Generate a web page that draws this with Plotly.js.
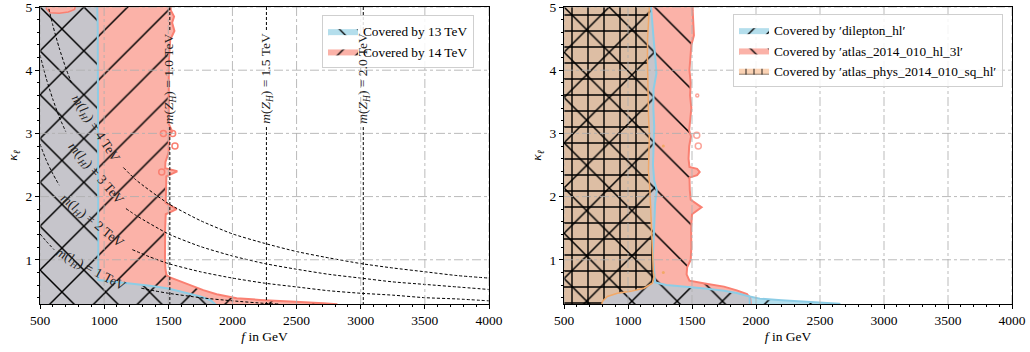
<!DOCTYPE html>
<html><head><meta charset="utf-8">
<script src="https://cdn.plot.ly/plotly-3.0.1.min.js"></script>
<style>body{margin:0;padding:0;background:#fff}#chart{width:1030px;height:352px}</style>
</head><body><div id="chart"></div>
<script>
// ---------------- data ----------------
const xTicks = [500, 1000, 1500, 2000, 2500, 3000, 3500, 4000];
const yTicks = [1, 2, 3, 4, 5];

// left panel: region covered at 14 TeV (outer boundary)
const cov14F = [400,1519,1519,1545,1530,1548,1515,1506,1504,1505,1504,1530,1505,1503,1478,1476,1570,1485,1480,1480,1565,1480,1476,1472,1474,1478,1485,1513,1539,1617,1695,1773,1877,1955,2033,2215,2397,2527,2708,2812,2830,400];
const cov14K = [5.2,5.2,4.95,4.85,4.75,4.62,4.48,4.2,3.9,3.5,3.15,3.03,2.95,2.7,2.55,2.45,2.4,2.32,2.1,1.9,1.8,1.72,1.5,1.2,1.0,0.85,0.76,0.72,0.70,0.63,0.575,0.52,0.455,0.42,0.39,0.365,0.35,0.33,0.31,0.295,0.2,0.2];
// left panel: region covered at 13 TeV (inside the 14 TeV region)
const cov13F = [400,945,947,950,952,953,955,1150,1357,1500,1620,1750,1830,1875,1880,400];
const cov13K = [5.2,5.2,4.95,4.7,3.5,2.0,0.68,0.635,0.59,0.545,0.49,0.42,0.36,0.28,0.2,0.2];
// small uncovered notch at the top left
const notchF = [545,550,580,650,720,770,790];
const notchK = [5.2,4.97,4.91,4.9,4.92,4.96,5.2];
// small contour islands
const islandLF = [1462,1534,1552,1449];
const islandLK = [3.0,3.0,2.8,2.39];

// heavy lepton mass contours m(l_H) = 4,3,2,1 TeV (gaps where the labels sit)
const ml4F = [560,600,650,700,745,null,1150,1250,1500,1750,2000,2250,2500,2750,3000,3250,3500,3750,4000];
const ml4K = [5.05,4.71,4.35,4.04,3.80,null,2.46,2.26,1.89,1.62,1.41,1.26,1.13,1.03,0.94,0.87,0.81,0.75,0.71];
const ml3F = [500,550,600,650,700,null,1170,1250,1500,1750,2000,2250,2500,2750,3000,3250,3500,3750,4000];
const ml3K = [4.24,3.86,3.54,3.26,3.03,null,1.81,1.70,1.41,1.21,1.06,0.94,0.85,0.77,0.71,0.65,0.61,0.57,0.53];
const ml2F = [500,550,600,650,null,1220,1350,1500,1750,2000,2250,2500,2750,3000,3250,3500,3750,4000];
const ml2K = [2.83,2.57,2.36,2.18,null,1.16,1.05,0.94,0.81,0.71,0.63,0.57,0.51,0.47,0.44,0.40,0.38,0.35];
const ml1F = [500,550,610,null,1290,1400,1500,1750,2000,2250,2360];
const ml1K = [1.41,1.29,1.16,null,0.55,0.505,0.47,0.40,0.35,0.31,0.30];
const mlLabels = ['4', '3', '2', '1'];
const mlLabelF = [930, 930, 905, 890];
const mlLabelK = [3.08, 2.36, 1.60, 0.84];
const mlLabelAngle = [57, 49, 39, 28];

// heavy Z_H mass lines
const mZH = ['1.0', '1.5', '2.0'];
const fZH = [1512, 2265, 3020];
const zhLabelK = 3.87, zhGapLow = 3.1, zhGapHigh = 4.62, kTop = 5, kBottom = 0.3;

// right panel: 'dilepton_hl'
const dilF = [400,1180,1180,1190,1200,1215,1222,1200,1198,1205,1200,1195,1205,1225,1212,1205,1200,1195,1205,1212,1300,1450,1600,1750,1850,1950,2030,2200,2450,2650,2700,400];
const dilK = [5.2,5.2,5.0,4.8,4.5,4.15,3.95,3.7,3.4,3.1,2.8,2.5,2.25,2.1,1.9,1.6,1.3,1.05,0.8,0.64,0.6,0.575,0.545,0.51,0.475,0.42,0.385,0.36,0.335,0.305,0.2,0.2];
// overlap dilepton & 3l
const bothF = [400,1180,1180,1190,1200,1215,1222,1200,1198,1205,1200,1195,1205,1225,1212,1205,1200,1195,1205,1212,1300,1450,1600,1750,1850,1950,1953,400];
const bothK = [5.2,5.2,5.0,4.8,4.5,4.15,3.95,3.7,3.4,3.1,2.8,2.5,2.25,2.1,1.9,1.6,1.3,1.05,0.8,0.64,0.6,0.575,0.545,0.51,0.475,0.42,0.2,0.2];
// right panel: 'atlas_2014_010_hl_3l'
const l3F = [400,1505,1505,1512,1515,1495,1488,1480,1490,1485,1495,1485,1478,1492,1478,1473,1480,1540,1560,1540,1480,1483,1490,1575,1500,1493,1495,1490,1462,1458,1480,1600,1750,1850,1930,1955,1962,400];
const l3K = [5.2,5.2,4.95,4.75,4.55,4.4,4.2,4.0,3.8,3.6,3.4,3.2,3.05,2.95,2.8,2.6,2.47,2.44,2.39,2.34,2.3,2.1,1.95,1.83,1.72,1.5,1.2,1.0,0.88,0.77,0.67,0.625,0.575,0.515,0.455,0.39,0.2,0.2];
// right panel: 'atlas_phys_2014_010_sq_hl'
const sqF = [400,1167,1167,1160,1153,1152,1153,1157,1160,1167,1162,1160,1170,1175,1177,1183,1190,1198,1203,1190,1125,1021,917,839,800,787,400];
const sqK = [5.2,5.2,5.0,4.8,4.5,4.2,3.9,3.6,3.3,3.0,2.7,2.4,2.15,1.9,1.6,1.3,1.0,0.82,0.73,0.63,0.55,0.50,0.47,0.42,0.34,0.2,0.2];
const islandRF = [1537,1549,1541];
const islandRK = [2.97,2.80,3.6];
const dotOF = [1276,1276];
const dotOK = [2.8,0.8];

const legendLeft = ['Covered by 13 TeV', 'Covered by 14 TeV'];
const legendRight = ['Covered by \u2032dilepton_hl\u2032', 'Covered by \u2032atlas_2014_010_hl_3l\u2032', 'Covered by \u2032atlas_phys_2014_010_sq_hl\u2032'];

// ---------------- styles ----------------
const FONT = 'Liberation Serif';
const salmonFill = '#fbb2a8', salmonLine = '#fa8072';
const greyFill = '#c6c5cb', blueFill = '#b4deec', blueLine = '#8ccde6';
const brownFill = '#ddbea4', orangeLine = '#f2a867', peachFill = '#fad2b4';
const HS = 31, HS2 = 32;
function pat(shape, bg, size, sol) {
  return {shape: shape, fgcolor: '#000', bgcolor: bg, size: size, solidity: sol, fillmode: 'replace'};
}
const solDiag = 0.048, solX = 0.094, solPlus = 0.17;

function region(xa, ya, fx, fk, fill, line, p) {
  return {type: 'scatter', mode: 'lines', x: fx, y: fk, xaxis: xa, yaxis: ya,
    fill: 'toself', fillcolor: fill, line: line, fillpattern: p,
    showlegend: false, hoverinfo: 'skip'};
}
const noLine = {width: 0, color: 'rgba(0,0,0,0)'};
const dashLine = {color: '#000', width: 1, dash: '3px,2px', shape: 'spline', smoothing: 0.6};

const traces = [];
// left
traces.push(region('x', 'y', cov14F, cov14K, salmonFill, {color: salmonLine, width: 2}, pat('/', salmonFill, HS, solDiag)));
traces.push(region('x', 'y', cov13F, cov13K, greyFill, {color: blueLine, width: 2}, pat('x', greyFill, HS, solX)));
traces.push(region('x', 'y', notchF, notchK, salmonFill, {color: salmonLine, width: 1.5}, pat('/', salmonFill, HS, solDiag)));
traces.push({type: 'scatter', mode: 'markers', x: islandLF, y: islandLK, xaxis: 'x', yaxis: 'y',
  marker: {symbol: 'circle-open', size: 6, color: salmonLine, line: {width: 1.5}}, showlegend: false, hoverinfo: 'skip'});
[[ml4F, ml4K], [ml3F, ml3K], [ml2F, ml2K], [ml1F, ml1K]].forEach(function (c) {
  traces.push({type: 'scatter', mode: 'lines', x: c[0], y: c[1], xaxis: 'x', yaxis: 'y', line: dashLine,
    connectgaps: false, showlegend: false, hoverinfo: 'skip'});
});
fZH.forEach(function (f) {
  traces.push({type: 'scatter', mode: 'lines', x: [f, f, null, f, f], y: [kTop, zhGapHigh, null, zhGapLow, kBottom],
    xaxis: 'x', yaxis: 'y', line: {color: '#000', width: 1, dash: '3px,2px'}, connectgaps: false, showlegend: false, hoverinfo: 'skip'});
});
// left legend entries
traces.push({type: 'scatter', mode: 'lines', x: [null], y: [null], xaxis: 'x', yaxis: 'y', fill: 'toself',
  fillcolor: blueFill, line: {width: 0}, fillpattern: pat('\\', blueFill, 13, 0.1), name: legendLeft[0], legend: 'legend'});
traces.push({type: 'scatter', mode: 'lines', x: [null], y: [null], xaxis: 'x', yaxis: 'y', fill: 'toself',
  fillcolor: salmonFill, line: {width: 0}, fillpattern: pat('/', salmonFill, 13, 0.1), name: legendLeft[1], legend: 'legend'});

// right
traces.push(region('x2', 'y2', dilF, dilK, blueFill, {color: blueLine, width: 2}, pat('/', blueFill, HS2, solDiag)));
traces.push(region('x2', 'y2', l3F, l3K, salmonFill, {color: salmonLine, width: 2}, pat('\\', salmonFill, HS2, solDiag)));
traces.push(region('x2', 'y2', bothF, bothK, greyFill, {color: blueLine, width: 2}, pat('x', greyFill, HS2, solX)));
traces.push(region('x2', 'y2', sqF, sqK, brownFill, noLine, pat('x', brownFill, HS2, solX)));
traces.push(region('x2', 'y2', sqF, sqK, 'rgba(0,0,0,0)', {color: orangeLine, width: 1.5}, pat('+', 'rgba(0,0,0,0)', HS2 / 2, solPlus)));
traces.push({type: 'scatter', mode: 'markers', x: islandRF, y: islandRK, xaxis: 'x2', yaxis: 'y2',
  marker: {symbol: 'circle-open', size: [6, 6, 3], color: salmonLine, line: {width: 1.5}}, showlegend: false, hoverinfo: 'skip'});
traces.push({type: 'scatter', mode: 'markers', x: dotOF, y: dotOK, xaxis: 'x2', yaxis: 'y2',
  marker: {symbol: 'circle', size: 3, color: orangeLine}, showlegend: false, hoverinfo: 'skip'});
// right legend entries
traces.push({type: 'scatter', mode: 'lines', x: [null], y: [null], xaxis: 'x2', yaxis: 'y2', fill: 'toself',
  fillcolor: blueFill, line: {width: 0}, fillpattern: pat('/', blueFill, 13, 0.1), name: legendRight[0], legend: 'legend2'});
traces.push({type: 'scatter', mode: 'lines', x: [null], y: [null], xaxis: 'x2', yaxis: 'y2', fill: 'toself',
  fillcolor: salmonFill, line: {width: 0}, fillpattern: pat('\\', salmonFill, 13, 0.1), name: legendRight[1], legend: 'legend2'});
traces.push({type: 'scatter', mode: 'lines', x: [null], y: [null], xaxis: 'x2', yaxis: 'y2', fill: 'toself',
  fillcolor: peachFill, line: {width: 0}, fillpattern: pat('+', peachFill, 8, 0.2), name: legendRight[2], legend: 'legend2'});

// annotations
const annotations = [];
mlLabels.forEach(function (m, i) {
  annotations.push({xref: 'x', yref: 'y', x: mlLabelF[i], y: mlLabelK[i], showarrow: false,
    text: '<i>m</i>(<i>l</i><sub><i>H</i></sub>) = ' + m + ' TeV', textangle: mlLabelAngle[i],
    font: {family: FONT, size: 13.5, color: '#222'}});
});
mZH.forEach(function (m, i) {
  annotations.push({xref: 'x', yref: 'y', x: fZH[i], y: zhLabelK, showarrow: false,
    text: '<i>m</i>(<i>Z</i><sub><i>H</i></sub>) = ' + m + ' TeV', textangle: -90,
    font: {family: FONT, size: 13.5, color: '#222'}});
});

// grid drawn above the fills, from the tick arrays
const shapes = [];
[['x', 'y'], ['x2', 'y2']].forEach(function (ax) {
  xTicks.forEach(function (t) {
    shapes.push({type: 'line', layer: 'above', xref: ax[0], yref: ax[1] + ' domain', x0: t, x1: t, y0: 0, y1: 1,
      line: {color: 'rgba(175,175,175,0.85)', width: 1, dash: 'dashdot'}});
  });
  yTicks.forEach(function (t) {
    shapes.push({type: 'line', layer: 'above', xref: ax[0] + ' domain', yref: ax[1], x0: 0, x1: 1, y0: t, y1: t,
      line: {color: 'rgba(175,175,175,0.85)', width: 1, dash: 'dashdot'}});
  });
});

const W = 1030, H = 352;
const yDom = [1 - 304 / H, 1 - 7 / H];
function xax(dom) {
  return {domain: dom, range: [500, 4000], tickmode: 'array', tickvals: xTicks, ticktext: xTicks.map(String),
    ticks: 'outside', ticklen: 4, tickwidth: 1, tickcolor: '#000', showline: true, linecolor: '#000', linewidth: 1,
    mirror: true, showgrid: false, zeroline: false, tickfont: {family: FONT, size: 13.5, color: '#000'},
    ticklabeloverflow: 'allow',
    minor: {tick0: 500, dtick: 100, ticks: 'outside', ticklen: 2, tickcolor: '#000', tickwidth: 1, showgrid: false},
    title: {text: '<i>f</i> in GeV', font: {family: FONT, size: 13.5, color: '#000'}, standoff: 4}, fixedrange: true};
}
function yax(dom) {
  return {domain: dom, range: [0.3, 5], tickmode: 'array', tickvals: yTicks, ticktext: yTicks.map(String),
    ticks: 'outside', ticklen: 4, tickwidth: 1, tickcolor: '#000', showline: true, linecolor: '#000', linewidth: 1,
    mirror: true, showgrid: false, zeroline: false, tickfont: {family: FONT, size: 13.5, color: '#000'},
    ticklabeloverflow: 'allow',
    minor: {tick0: 0, dtick: 0.2, ticks: 'outside', ticklen: 2, tickcolor: '#000', tickwidth: 1, showgrid: false},
    title: {text: '<i>\u03ba</i><sub><i>\u2113</i></sub>', font: {family: FONT, size: 13.5, color: '#000'}, standoff: 4}, fixedrange: true};
}
const legendStyle = {bgcolor: 'rgba(255,255,255,0.85)', bordercolor: '#cfcfcf', borderwidth: 1,
  font: {family: FONT, size: 13.3, color: '#000'}, xanchor: 'left', yanchor: 'top', tracegroupgap: 0, itemwidth: 30};

const layout = {
  width: W, height: H, margin: {l: 0, r: 0, t: 0, b: 0}, paper_bgcolor: '#fff', plot_bgcolor: '#fff',
  font: {family: FONT, size: 13.5, color: '#000'},
  xaxis: Object.assign(xax([40 / W, 489 / W]), {anchor: 'y'}),
  yaxis: Object.assign(yax(yDom), {anchor: 'x'}),
  xaxis2: Object.assign(xax([564 / W, 1012 / W]), {anchor: 'y2'}),
  yaxis2: Object.assign(yax(yDom), {anchor: 'x2'}),
  legend: Object.assign({}, legendStyle, {x: 322 / W, y: 1 - 15 / H}),
  legend2: Object.assign({}, legendStyle, {x: 733 / W, y: 1 - 14 / H}),
  annotations: annotations, shapes: shapes, showlegend: true, hovermode: false
};
Plotly.newPlot('chart', traces, layout, {displayModeBar: false, staticPlot: true});
</script></body></html>
